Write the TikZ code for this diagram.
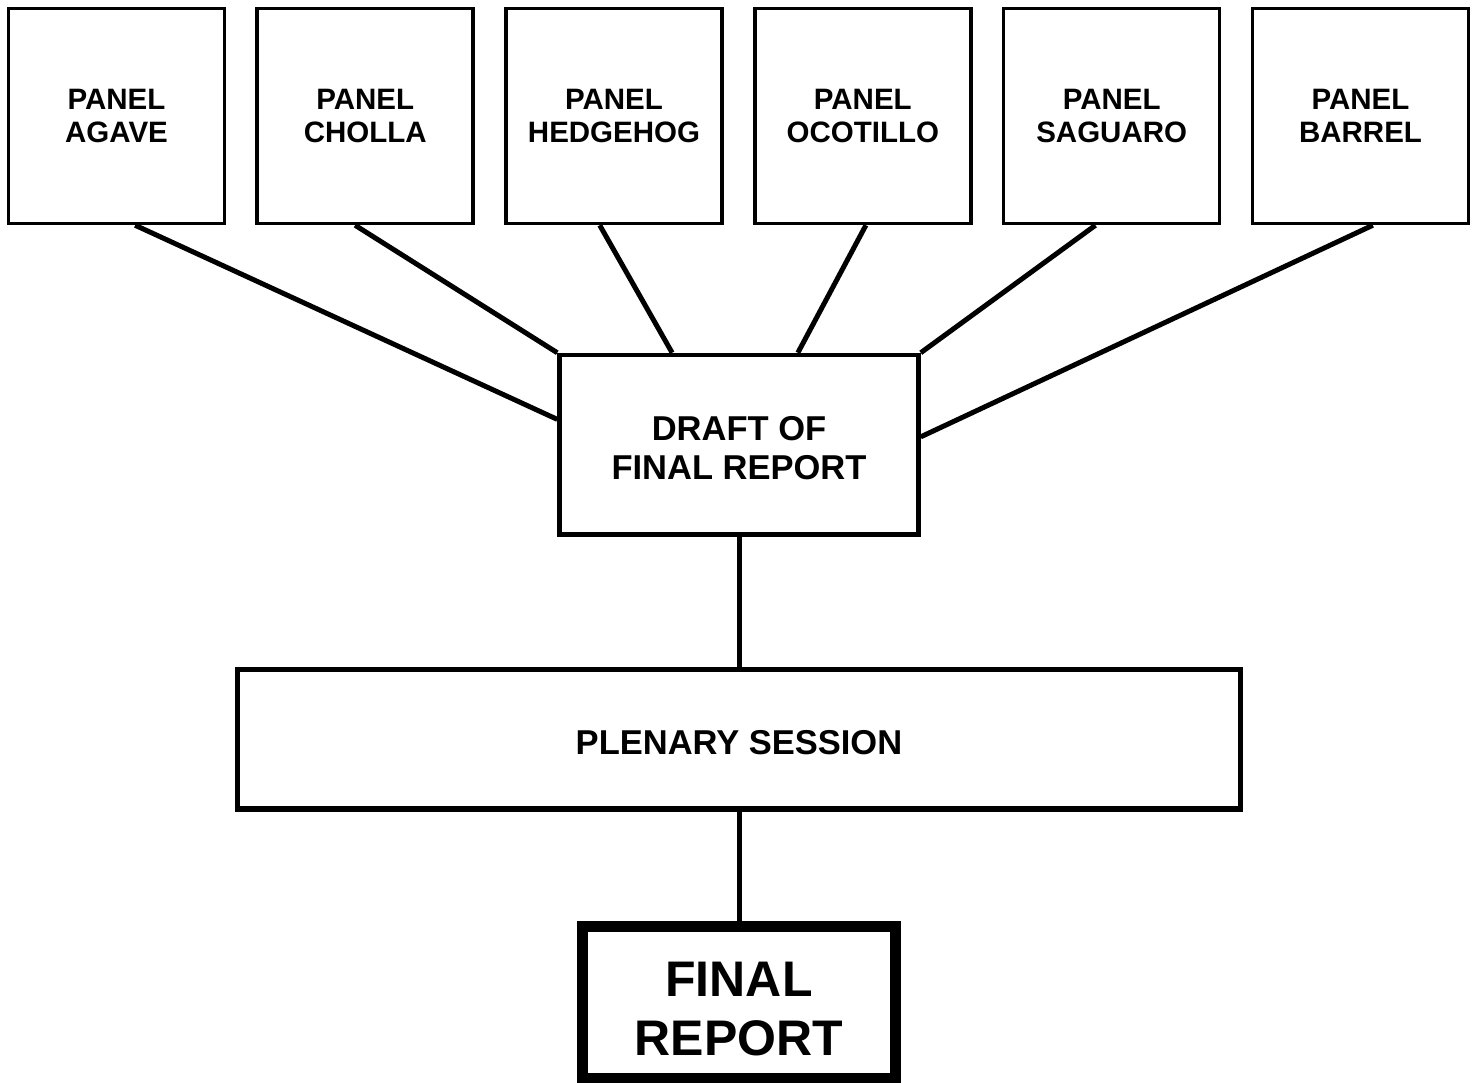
\documentclass[tikz,border=0pt]{standalone}
\usepackage{fontspec}
\setmainfont{Liberation Sans}
\usetikzlibrary{calc}
\begin{document}
\begin{tikzpicture}[x=1pt,y=-1pt,
  panelbox/.style={draw, line width=3.5pt, minimum width=216pt, minimum height=215pt, inner sep=0pt, align=center, font=\fontsize{29.5}{33.6}\selectfont\bfseries},
  draftbox/.style={draw, line width=4.5pt, minimum width=359pt, minimum height=179.5pt, inner sep=0pt},
  drafttext/.style={inner sep=0pt, align=center, font=\fontsize{34.5}{39.5}\selectfont\bfseries},
  plenbox/.style={draw, line width=5.5pt, minimum width=1002.6pt, minimum height=139.7pt, inner sep=0pt, text height=31pt, text depth=0pt, font=\fontsize{34.5}{39.5}\selectfont\bfseries},
  finalbox/.style={draw, line width=11pt, minimum width=312.7pt, minimum height=152pt, inner sep=0pt},
  finaltext/.style={inner sep=0pt, align=center, font=\fontsize{50}{58.5}\selectfont\bfseries},
  conn/.style={line width=5pt}]
\useasboundingbox (0,0) rectangle (1477,1083);
\fill[white] (0,0) rectangle (1477,1083);

\node[panelbox] (agave)    at (116.5,116) {PANEL\\AGAVE};
\node[panelbox] (cholla)   at (365.2,116) {PANEL\\CHOLLA};
\node[panelbox] (hedgehog) at (614.0,116) {PANEL\\HEDGEHOG};
\node[panelbox] (ocotillo) at (862.8,116) {PANEL\\OCOTILLO};
\node[panelbox] (saguaro)  at (1111.7,116) {PANEL\\SAGUARO};
\node[panelbox] (barrel)   at (1360.5,116) {PANEL\\BARREL};

\node[draftbox] (draft) at (739,444.75) {};
\node[drafttext] (draftlbl) at ([yshift=-3.5pt]draft.center) {DRAFT OF\\FINAL REPORT};
\node[plenbox] (plenary) at (739,739.2) {PLENARY SESSION};
\node[finalbox] (final) at (739,1002) {};
\node[finaltext] (finallbl) at ([yshift=-7pt]final.center) {FINAL\\REPORT};

\draw[conn] ($(agave.south west)!0.585!(agave.south east)$) -- ($(draft.north west)!0.362!(draft.south west)$);
\draw[conn] ($(cholla.south west)!0.454!(cholla.south east)$) -- (draft.north west);
\draw[conn] ($(hedgehog.south west)!0.435!(hedgehog.south east)$) -- ($(draft.north west)!0.316!(draft.north east)$);
\draw[conn] ($(ocotillo.south west)!0.514!(ocotillo.south east)$) -- ($(draft.north west)!0.662!(draft.north east)$);
\draw[conn] ($(saguaro.south west)!0.426!(saguaro.south east)$) -- (draft.north east);
\draw[conn] ($(barrel.south west)!0.556!(barrel.south east)$) -- ($(draft.north east)!0.457!(draft.south east)$);
\draw[conn] (draft.south) -- (plenary.north);
\draw[conn] (plenary.south) -- (final.north);
\end{tikzpicture}
\end{document}
